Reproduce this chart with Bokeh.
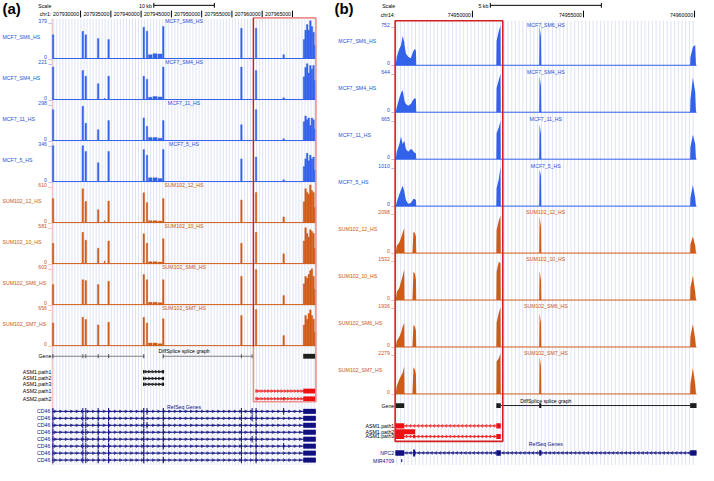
import numpy as np
from bokeh.plotting import figure
from bokeh.layouts import row
from bokeh.models import Range1d
from bokeh.core.properties import value
from bokeh.embed import file_html
from bokeh.resources import INLINE

FONT = "Liberation Sans"
BLUE = "#3261ea"
BLUE_T = "#2b4fd4"
ORANGE = "#d05b18"
ORANGE_T = "#c9561a"
NAVY = "#10107e"
GUIDE = "#d6dbf3"
TXT = "5.2px"

# ---------------- data: panel (a), chr1, CD46 ----------------
a_chrom = "chr1:"
a_view = (207925320, 207968870)
a_ticks = [207930000, 207935000, 207940000, 207945000, 207950000, 207955000, 207960000, 207965000]
a_scale_bp = 10000
a_scale_label = "10 kb"
a_roi = (207958548, 207968870)

a_tracks = ["MCF7_SM6_HS", "MCF7_SM4_HS", "MCF7_11_HS", "MCF7_5_HS",
            "SUM102_12_HS", "SUM102_10_HS", "SUM102_SM6_HS", "SUM102_SM7_HS"]
a_max = [379, 221, 298, 346, 610, 581, 603, 656]

a_cov_start = [207925330, 207930245, 207930735, 207932780, 207933900, 207934505, 207940310,
               207940845, 207941200, 207941950, 207942800, 207943535, 207956440, 207958860,
               207963420, 207966774, 207967036, 207967298, 207967560, 207967822, 207968084,
               207968346, 207968608]
a_cov_end = [207925580, 207930495, 207930985, 207933030, 207934050, 207934755, 207940560,
             207941095, 207941800, 207942650, 207943450, 207943785, 207956690, 207959110,
             207963670, 207967036, 207967298, 207967560, 207967822, 207968084, 207968346,
             207968608, 207968870]
a_cov = [
    [239, 273, 239, 201, 0, 190, 315, 273, 38, 49, 45, 322, 303, 303, 38, 190, 284, 341, 284, 379, 322, 265, 133],
    [190, 170, 137, 93, 7, 137, 137, 119, 13, 18, 15, 190, 190, 170, 11, 133, 188, 210, 155, 199, 177, 199, 111],
    [244, 271, 137, 86, 0, 158, 179, 113, 24, 24, 18, 158, 125, 244, 15, 149, 194, 164, 179, 119, 179, 164, 89],
    [329, 329, 277, 173, 0, 277, 294, 242, 35, 35, 28, 294, 208, 225, 17, 138, 208, 260, 190, 242, 208, 225, 104],
    [390, 549, 342, 207, 31, 348, 482, 323, 31, 31, 24, 390, 366, 488, 92, 336, 549, 488, 458, 610, 519, 488, 244],
    [314, 482, 360, 238, 41, 349, 459, 314, 29, 29, 23, 383, 314, 482, 151, 349, 552, 465, 407, 523, 494, 465, 232],
    [320, 398, 386, 320, 0, 374, 482, 398, 36, 36, 30, 398, 452, 561, 145, 332, 452, 422, 482, 543, 573, 452, 241],
    [394, 492, 453, 361, 0, 407, 492, 394, 46, 46, 33, 466, 525, 630, 177, 361, 525, 459, 558, 623, 525, 459, 230],
]

a_exon_start = [207925330, 207930290, 207930780, 207932820, 207934540, 207940340, 207940890,
                207943570, 207956480, 207958250, 207958900, 207963460, 207966774]
a_exon_end = [207925520, 207930450, 207930940, 207932990, 207934720, 207940530, 207941050,
              207943750, 207956650, 207958420, 207959070, 207963630, 207968860]
a_gene_exons = [0, 1, 2, 3, 4, 5, 7, 8, 9]
a_gene_spans = [(0, 5), (7, 9)]
a_gene_block = 12
a_asm = ["ASM1.path1", "ASM1.path2", "ASM1.path3", "ASM2.path1", "ASM2.path2"]
a_asm_paths = [[5, 7], [5, 7], [5, 7], [10, 12], [10, 11, 12]]
a_refseq_name = "CD46"
a_refseq_rows = [
    [0, 1, 2, 3, 4, 5, 6, 7, 8, 9, 10, 11, 12],
    [0, 1, 2, 3, 4, 5, 7, 8, 9, 10, 12],
    [0, 1, 2, 3, 4, 5, 6, 7, 8, 10, 12],
    [0, 1, 2, 3, 4, 5, 7, 8, 10, 12],
    [0, 1, 2, 3, 4, 5, 7, 8, 9, 10, 12],
    [0, 1, 2, 3, 4, 5, 7, 8, 10, 11, 12],
    [0, 1, 2, 3, 4, 5, 8, 10, 12],
    [0, 1, 2, 3, 4, 5, 7, 8, 10, 12],
]

# ---------------- data: panel (b), chr14, NPC2 ----------------
b_chrom = "chr14:"
b_view = (74946520, 74960090)
b_ticks = [74950000, 74955000, 74960000]
b_scale_bp = 5000
b_scale_label = "5 kb"
b_roi = (74946520, 74951367)

b_tracks = a_tracks
b_max = [752, 644, 665, 1010, 2098, 1532, 1936, 2279]
b_pos = [74946546, 74946595, 74946709, 74946784, 74946859, 74946930, 74946943, 74947005,
         74947106, 74947225, 74947300, 74947344, 74947414, 74947458, 74947472,
         74951075, 74951088, 74951189, 74951264, 74951277,
         74953004, 74953022, 74953084, 74953101,
         74959801, 74959814, 74959925, 74960030, 74960065]
b_cov = [
    [0, 158, 308, 368, 541, 429, 376, 218, 158, 128, 218, 263, 308, 263, 0, 0, 451, 639, 737, 0, 0, 722, 526, 0, 0, 150, 338, 376, 0],
    [0, 77, 225, 303, 354, 200, 180, 129, 103, 129, 180, 200, 225, 200, 0, 0, 386, 515, 612, 0, 0, 580, 420, 0, 0, 193, 547, 322, 0],
    [0, 120, 246, 372, 250, 300, 280, 166, 120, 166, 150, 125, 100, 93, 0, 0, 426, 525, 632, 0, 0, 578, 420, 0, 0, 200, 400, 250, 0],
    [0, 101, 293, 404, 505, 374, 333, 152, 61, 81, 141, 182, 172, 152, 0, 0, 444, 677, 990, 0, 0, 909, 758, 0, 0, 202, 525, 202, 0],
    [0, 378, 545, 776, 1049, 1280, 0, 0, 0, 0, 0, 1112, 1028, 839, 0, 0, 1196, 1678, 1930, 0, 0, 1930, 1364, 0, 0, 462, 860, 378, 0],
    [0, 306, 460, 689, 919, 1149, 0, 0, 0, 0, 0, 1072, 996, 766, 0, 0, 1072, 1455, 1379, 0, 0, 1103, 766, 0, 0, 460, 919, 306, 0],
    [0, 290, 484, 678, 968, 1162, 0, 0, 0, 0, 0, 1065, 968, 774, 0, 0, 1162, 1646, 1897, 0, 0, 1607, 1162, 0, 0, 484, 1084, 387, 0],
    [0, 456, 820, 1003, 1185, 1550, 0, 0, 0, 0, 0, 1504, 1367, 1100, 0, 0, 1823, 2005, 2279, 0, 0, 2097, 1550, 0, 0, 547, 1459, 547, 0],
]
b_exon_start = [74946530, 74947330, 74951075, 74953004, 74959801]
b_exon_end = [74946930, 74947420, 74951277, 74953101, 74960090]
b_gene_blocks = [0, 2, 3, 4]
b_gene_span = (2, 4)
b_asm = ["ASM1.path1", "ASM1.path2", "ASM1.path3"]
b_asm_paths = [[0, 2], [0, 1], [0, 1, 2]]
b_refseq_name = "NPC2"
b_refseq_exons = [0, 1, 2, 3, 4]
b_mir_name = "MIR4709"
b_mir = (74946790, 74946840)


def panel(width, ref_x0, ref_x1, px0, px1, view):
    bpp = (view[1] - view[0]) / (px1 - px0)
    x0 = view[0] - (px0 - ref_x0) * bpp
    x1 = view[1] + (ref_x1 - px1) * bpp
    p = figure(width=width, height=465, x_range=Range1d(x0, x1), y_range=Range1d(481, 0),
               output_backend="svg", toolbar_location=None, min_border=0,
               x_axis_location=None, y_axis_location=None, outline_line_color=None)
    p.grid.visible = False
    p.background_fill_color = "white"
    p.border_fill_color = "white"

    def to_g(px):
        return x0 + (px - ref_x0) * bpp
    return p, to_g, bpp


def label(p, x, y, text, color="black", size=TXT, align="left", bold=False, x_offset=0):
    p.text(x=[x], y=[y], text=[text], text_color=color, text_font=value(FONT),
           text_font_size=size, text_align=align, text_baseline="middle",
           text_font_style="bold" if bold else "normal", x_offset=x_offset)


def header(p, to_g, view, chrom, ticks, scale_bp, scale_label, px_lab, tag, tag_px, chrom_y):
    label(p, to_g(tag_px), 8, tag, size="15px", bold=True)
    label(p, to_g(px_lab), 6, "Scale", align="right")
    label(p, to_g(px_lab), chrom_y, chrom, align="right")
    c = (view[0] + view[1]) / 2
    s0, s1 = c - scale_bp / 2, c + scale_bp / 2
    p.segment(x0=[s0], x1=[s1], y0=[5], y1=[5], line_color="black", line_width=1)
    p.segment(x0=[s0, s1], x1=[s0, s1], y0=[2.5, 2.5], y1=[7.5, 7.5], line_color="black", line_width=1)
    label(p, s0, 6, scale_label, align="right", x_offset=-2)
    n = len(ticks)
    p.segment(x0=ticks, x1=ticks, y0=[10.5] * n, y1=[17.5] * n, line_color="black", line_width=1)
    p.text(x=ticks, y=[chrom_y] * n, text=[str(t) for t in ticks], text_color="black",
           text_font=value(FONT), text_font_size=TXT, text_align="right",
           text_baseline="middle", x_offset=-1.5)


def guides(p, view, step, top):
    xs = list(np.arange(view[0] + step / 2, view[1], step))
    p.segment(x0=xs, x1=xs, y0=[top] * len(xs), y1=[481] * len(xs), line_color=GUIDE, line_width=0.8)


def track_labels(p, to_g, view, i, name, mx, base, H, px_left, px_val, left_dy):
    col_t = BLUE_T if i < 4 else ORANGE_T
    col = BLUE if i < 4 else ORANGE
    p.segment(x0=[view[0]], x1=[view[1]], y0=[base], y1=[base], line_color=col, line_width=1)
    label(p, to_g(px_left), base - left_dy, name, color=col_t)
    label(p, to_g(px_val), base - H, f"{mx} _", color=col_t, align="right")
    label(p, to_g(px_val), base - 2, "0 _", color=col_t, align="right")
    label(p, (view[0] + view[1]) / 2, base - H, name, color=col_t, align="center")


def arrows(p, x0, x1, y, step, color, right=True):
    xs = list(np.arange(x0 + step / 2, x1, step))
    if not xs:
        return
    p.scatter(x=xs, y=[y] * len(xs), marker="triangle", size=2.6,
              angle=-np.pi / 2 if right else np.pi / 2,
              fill_color=None, line_color=color, line_width=0.7)


# ================= panel (a) =================
pa, ga, bpa = panel(332, 0, 340, 53, 323, a_view)
header(pa, ga, a_view, a_chrom, a_ticks, a_scale_bp, a_scale_label, 52, "(a)", 2, 14)
guides(pa, a_view, 500, 19)
pa.segment(x0=[a_view[0]], x1=[a_view[0]], y0=[19], y1=[481], line_color="#efb4b4", line_width=1)

A_BASE0, A_PITCH, A_H = 60, 42.43, 39
for i, (name, mx, cov) in enumerate(zip(a_tracks, a_max, a_cov)):
    base = A_BASE0 + i * A_PITCH
    col = BLUE if i < 4 else ORANGE
    top = [base - v / mx * A_H for v in cov]
    pa.quad(left=a_cov_start, right=a_cov_end, top=top, bottom=[base] * len(top),
            fill_color=col, line_color=col, line_width=0.4)
    track_labels(pa, ga, a_view, i, name, mx, base, A_H, 2, 52, 22)

# splice graph
GY = 368
label(pa, (a_view[0] + a_view[1]) / 2, 363, "DiffSplice splice graph", align="center")
label(pa, ga(52), GY, "Gene", align="right")
for s, e in a_gene_spans:
    pa.segment(x0=[a_exon_start[s]], x1=[a_exon_end[e]], y0=[GY], y1=[GY], line_color="#808080", line_width=1)
pa.quad(left=[a_exon_start[k] for k in a_gene_exons], right=[a_exon_end[k] for k in a_gene_exons],
        top=[GY - 2] * len(a_gene_exons), bottom=[GY + 2] * len(a_gene_exons), fill_color="#555555", line_color=None)
pa.quad(left=[a_exon_start[a_gene_block]], right=[a_exon_end[a_gene_block]], top=[GY - 2.5], bottom=[GY + 2.5],
        fill_color="#1e1e1e", line_color=None)

asm_y_a = [384, 391, 397, 404, 412]
for name, path, y in zip(a_asm, a_asm_paths, asm_y_a):
    label(pa, ga(52), y, name, align="right")
    col = "black" if name.startswith("ASM1") else "#ee1111"
    pa.segment(x0=[a_exon_start[path[0]]], x1=[a_exon_end[path[-1]]], y0=[y], y1=[y], line_color=col, line_width=0.8)
    arrows(pa, a_exon_end[path[0]], a_exon_start[path[-1]], y, 550, col)
    for k in path:
        big = (k == 12)
        pa.quad(left=[a_exon_start[k]], right=[a_exon_end[k]], top=[y - (2.5 if big else 1.8)],
                bottom=[y + (2.5 if big else 1.8)], fill_color=col, line_color=None)

label(pa, (a_view[0] + a_view[1]) / 2, 420, "RefSeq Genes", color=NAVY, align="center")
for r, ex in enumerate(a_refseq_rows):
    y = 425 + r * 7.2
    label(pa, ga(51), y, a_refseq_name, color=NAVY, align="right")
    pa.segment(x0=[a_exon_start[ex[0]]], x1=[a_exon_end[ex[-1]]], y0=[y], y1=[y], line_color=NAVY, line_width=1)
    arrows(pa, a_exon_start[ex[0]], a_exon_start[ex[-1]], y, 900, NAVY)
    thin = [k for k in ex if k != 12]
    pa.quad(left=[a_exon_start[k] for k in thin], right=[a_exon_end[k] for k in thin],
            top=[y - 3.4] * len(thin), bottom=[y + 3.4] * len(thin), fill_color=NAVY, line_color=None)
    pa.quad(left=[a_exon_start[12]], right=[a_exon_end[12]], top=[y - 2.6], bottom=[y + 2.6],
            fill_color=NAVY, line_color=None)

pa.quad(left=[a_roi[0]], right=[a_roi[1]], top=[18], bottom=[415], fill_color=None,
        line_color="#ec8f8f", line_width=1.6)
pa.segment(x0=[a_roi[0]], x1=[a_roi[0]], y0=[18], y1=[358], line_color="#c81e1e", line_width=1.2)

# ================= panel (b) =================
pb, gb, bpb = panel(366, 340, 714, 404, 712, b_view)
header(pb, gb, b_view, b_chrom, b_ticks, b_scale_bp, b_scale_label, 404, "(b)", 342, 15)
guides(pb, b_view, 5000 / 30, 21)

B_BASE0, B_PITCH, B_H = 67, 48.57, 42
for i, (name, mx, cov) in enumerate(zip(b_tracks, b_max, b_cov)):
    base = B_BASE0 + i * B_PITCH
    y2 = [base - v / mx * B_H for v in cov]
    pb.varea(x=b_pos, y1=[base] * len(b_pos), y2=y2, fill_color=BLUE if i < 4 else ORANGE)
    track_labels(pb, gb, b_view, i, name, mx, base, B_H, 346, 403, 25)

GYB = 419
label(pb, (b_view[0] + b_view[1]) / 2, 414, "DiffSplice splice graph", align="center")
label(pb, gb(403), GYB, "Gene", align="right")
pb.segment(x0=[b_exon_end[b_gene_span[0]]], x1=[b_exon_start[b_gene_span[1]]], y0=[GYB], y1=[GYB],
           line_color="#1e1e1e", line_width=1)
pb.quad(left=[b_exon_start[k] for k in b_gene_blocks], right=[b_exon_end[k] for k in b_gene_blocks],
        top=[GYB - 2.5] * len(b_gene_blocks), bottom=[GYB + 2.5] * len(b_gene_blocks),
        fill_color="#1e1e1e", line_color=None)

asm_y_b = [440, 446, 451]
for name, path, y in zip(b_asm, b_asm_paths, asm_y_b):
    label(pb, gb(403), y, name, align="right")
    col = "#ee1111"
    if path == [0, 1]:
        pb.quad(left=[b_exon_start[0]], right=[b_exon_end[1]], top=[y - 2.6], bottom=[y + 2.6],
                fill_color=col, line_color=None)
        continue
    pb.segment(x0=[b_exon_start[path[0]]], x1=[b_exon_end[path[-1]]], y0=[y], y1=[y], line_color=col, line_width=0.8)
    arrows(pb, b_exon_end[path[0]], b_exon_start[path[-1]], y, 180, col, right=False)
    for k in path:
        h = 1.8 if k == 1 else 2.6
        pb.quad(left=[b_exon_start[k]], right=[b_exon_end[k]], top=[y - h], bottom=[y + h],
                fill_color=col, line_color=None)

pb.quad(left=[b_roi[0]], right=[b_roi[1]], top=[21], bottom=[456], fill_color=None,
        line_color="#d42020", line_width=1.6)

label(pb, (b_view[0] + b_view[1]) / 2, 459, "RefSeq Genes", color=NAVY, align="center")
YN = 468
label(pb, gb(403), YN, b_refseq_name, color=NAVY, align="right")
pb.segment(x0=[b_exon_start[0]], x1=[b_exon_end[-1]], y0=[YN], y1=[YN], line_color=NAVY, line_width=1)
arrows(pb, b_exon_end[0], b_exon_start[-1], YN, 190, NAVY, right=False)
for k in b_refseq_exons:
    h = 3.6 if k == 1 else 2.8
    pb.quad(left=[b_exon_start[k]], right=[b_exon_end[k]], top=[YN - h], bottom=[YN + h],
            fill_color=NAVY, line_color=None)
label(pb, gb(403), 476, b_mir_name, color=NAVY, align="right")
pb.quad(left=[b_mir[0]], right=[b_mir[1]], top=[474.5], bottom=[477.5], fill_color=NAVY, line_color=None)

layout = row(pa, pb)
open("out.html", "w").write(file_html(layout, INLINE))
